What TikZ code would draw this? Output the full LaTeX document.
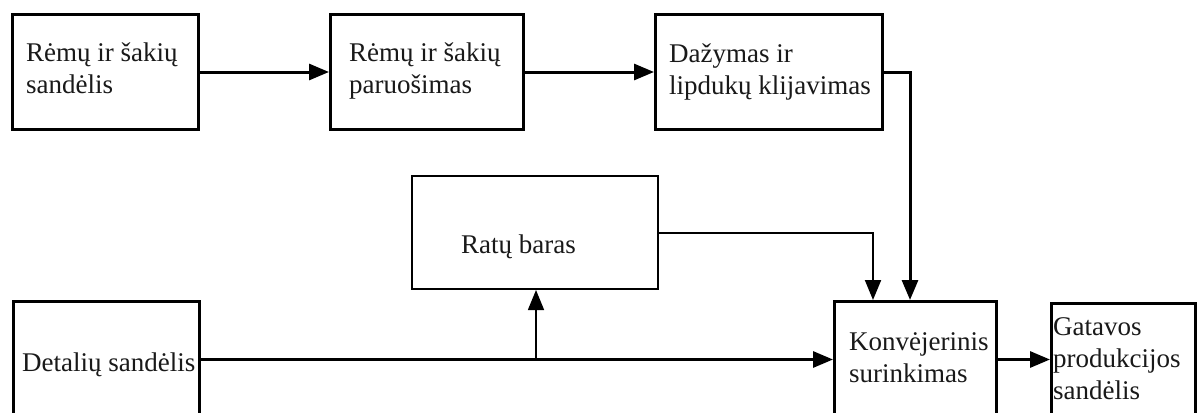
\documentclass[tikz,border=0pt]{standalone}
\usepackage{fontspec}
\setmainfont{Liberation Serif}
\usetikzlibrary{arrows.meta}
\begin{document}
\begin{tikzpicture}[x=1pt,y=-1pt,
  box/.style={draw=black,line width=3pt,rectangle,inner sep=0pt,anchor=north west},
  thinbox/.style={box,line width=2pt},
  % multi-line labels are placed by the baseline of their last line
  txt/.style={anchor=base west,inner sep=0pt,align=left,font=\fontsize{27}{32}\selectfont,text=black!90},
  flow/.style={line width=3pt,-{Triangle[length=20pt,width=16pt]}},
  flowthin/.style={line width=2pt,-{Triangle[length=20pt,width=16pt]}},
  flowhair/.style={line width=1.5pt,-{Triangle[length=20pt,width=16pt]}}]
\useasboundingbox (0,0) rectangle (1198,412);
\fill[white] (0,0) rectangle (1198,412);
\clip (0,0) rectangle (1198,412);

% process boxes
\node[box,minimum width=186pt,minimum height=115pt] (b1) at (11,13) {};
\node[box,minimum width=193pt,minimum height=115pt] (b2) at (329,13) {};
\node[box,minimum width=227pt,minimum height=115pt] (b3) at (654,13) {};
\node[thinbox,minimum width=246pt,minimum height=113pt] (ratu) at (411,175) {};
\node[box,minimum width=186pt,minimum height=116pt] (det) at (12,300) {};
\node[box,minimum width=162pt,minimum height=116pt] (konv) at (833,300) {};
\node[box,minimum width=144pt,minimum height=116pt] (gat) at (1050,302) {};

% box labels
\node[txt] (b1t) at (26,93) {Rėmų ir šakių\\sandėlis};
\node[txt] (b2t) at (349,93) {Rėmų ir šakių\\paruošimas};
\node[txt] (b3t) at (669,94) {Dažymas ir\\lipdukų klijavimas};
\node[txt] (ratut) at (461,253) {Ratų baras};
\node[txt] (dett) at (22,371) {Detalių sandėlis};
\node[txt] (konvt) at (849,382) {Konvėjerinis\\surinkimas};
\node[txt] (gatt) at (1053,399) {Gatavos\\produkcijos\\sandėlis};

% connector ends
\coordinate (kin1) at (873,300);
\coordinate (kin2) at (910,300);
\coordinate (br) at (536,358);

% connectors
\draw[flow] (b1.east) -- (b2.west);
\draw[flow] (b2.east) -- (b3.west);
\draw[flow] (b3.east) -| (kin2);
\draw[flowthin] (ratu.east) -| (kin1);
\draw[flow] (det.east) -- (konv.west);
\draw[flowhair] (br) -- (br |- ratu.south);
\draw[flow] (konv.east) -- (konv.east -| gat.west);
\end{tikzpicture}
\end{document}
